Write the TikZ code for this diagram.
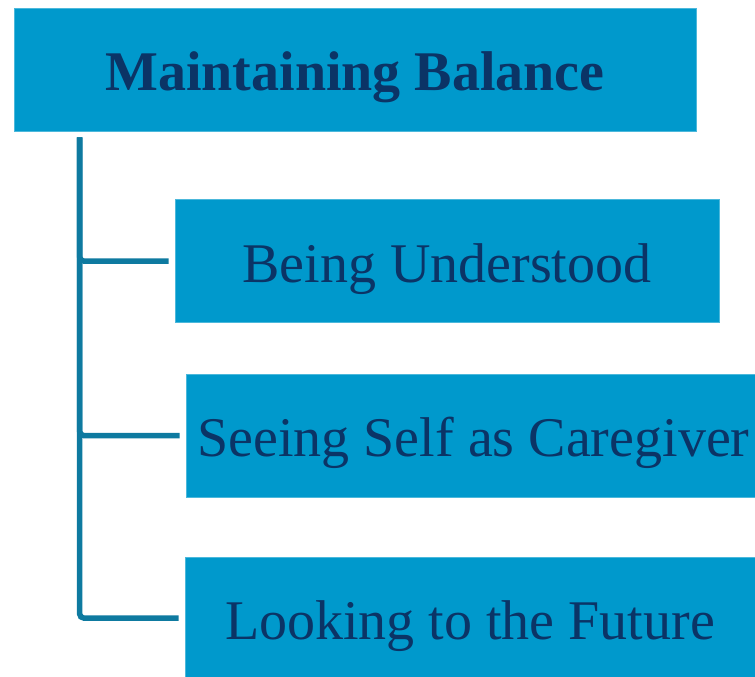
\documentclass[tikz,border=0pt]{standalone}
\usepackage{fontspec}
\setmainfont{Liberation Serif}
\usepackage{tikz}

\definecolor{boxblue}{HTML}{0099CC}
\definecolor{linkblue}{HTML}{0E7AA0}
\definecolor{textnavy}{HTML}{0B3466}

\begin{document}
\begin{tikzpicture}[x=1pt,y=-1pt,
    topic/.style={fill=boxblue, draw=boxblue!70!white, line width=0.6pt, inner sep=0pt,
      text height=42pt, text depth=0pt,
      text=textnavy, font=\fontsize{56}{60}\selectfont},
    link/.style={draw=linkblue, line width=5.5pt, rounded corners=4pt}]
  \useasboundingbox (0,0) rectangle (755,677);

  %\fill[gray!5] (0,0) rectangle (12,677);
  \node[topic, minimum width=682pt, minimum height=123pt, font=\fontsize{56}{60}\selectfont\bfseries]
    (balance) at (355,69.5) {Maintaining Balance};

  \node[topic, minimum width=544pt, minimum height=123pt] (understood) at (447,261) {Being Understood};
  \node[topic, minimum width=569pt, minimum height=123pt] (self) at (470.5,435.5) {\hspace{6pt}Seeing Self as Caregiver};
  \node[topic, minimum width=570pt, minimum height=121pt] (future) at (470,618) {Looking to the Future};

  \coordinate (stem) at ([xshift=66pt,yshift=-6pt]balance.south west);
  \draw[link] (stem) |- ([xshift=-6pt]understood.west);
  \draw[link] (stem) |- ([xshift=-6pt]self.west);
  \draw[link] (stem) |- ([xshift=-6pt]future.west);
\end{tikzpicture}
\end{document}
